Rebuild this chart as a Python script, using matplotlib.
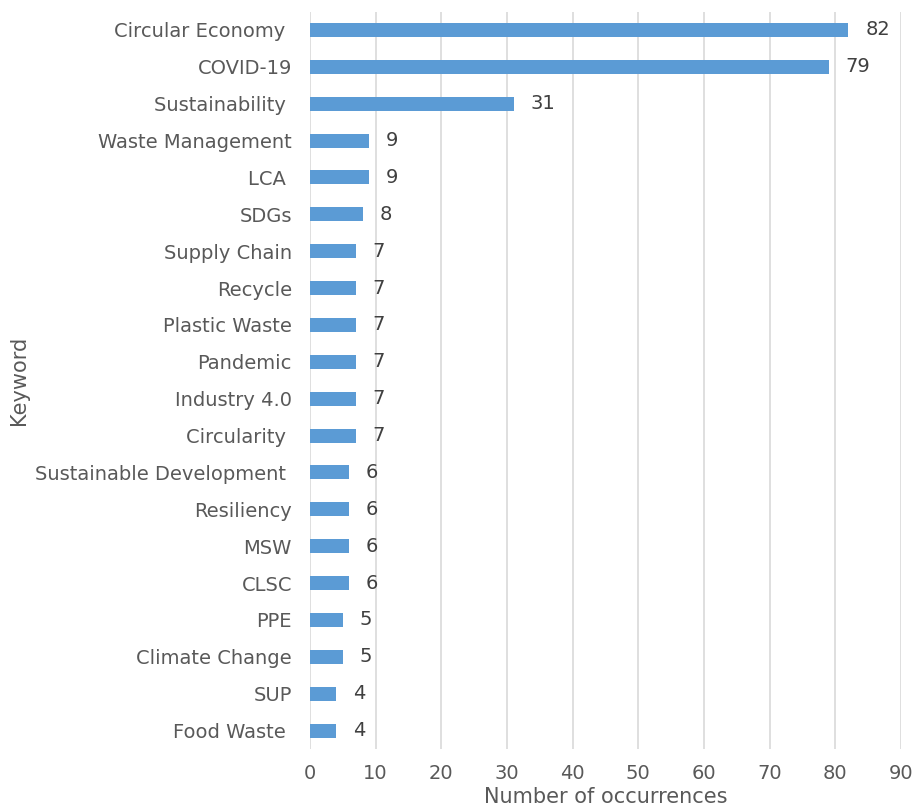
import matplotlib
matplotlib.use("Agg")
import matplotlib.pyplot as plt

keywords = ["Circular Economy ", "COVID-19", "Sustainability ", "Waste Management", "LCA ",
            "SDGs", "Supply Chain", "Recycle", "Plastic Waste", "Pandemic", "Industry 4.0",
            "Circularity ", "Sustainable Development ", "Resiliency", "MSW", "CLSC", "PPE",
            "Climate Change", "SUP", "Food Waste "]
counts = [82, 79, 31, 9, 9, 8, 7, 7, 7, 7, 7, 7, 6, 6, 6, 6, 5, 5, 4, 4]
xticks = [0, 10, 20, 30, 40, 50, 60, 70, 80, 90]

grey = "#595959"
fig = plt.figure(figsize=(9.18, 8.06), dpi=100)
ax = fig.add_axes([0.3377, 0.0707, 0.6438, 0.915])

pos = list(range(len(keywords)))
bars = ax.barh(pos, counts, height=0.38, color="#5b9bd5", zorder=3)
ax.bar_label(bars, labels=[str(c) for c in counts], padding=12, fontsize=14, color="#404040")

ax.set_ylim(len(keywords) - 0.5, -0.5)
ax.set_yticks(pos)
ax.set_yticklabels(keywords)
ax.set_xlim(0, 90)
ax.set_xticks(xticks)
ax.grid(axis="x", color="#d9d9d9", linewidth=1.2, zorder=0)
ax.tick_params(axis="both", length=0, labelsize=14, labelcolor=grey)
ax.tick_params(axis="y", pad=13)
ax.tick_params(axis="x", pad=11)
for s in ax.spines.values():
    s.set_visible(False)

ax.set_xlabel("Number of occurrences", fontsize=15, color=grey, labelpad=3)
ax.set_ylabel("Keyword", fontsize=15, color=grey)
ax.yaxis.set_label_coords(-0.475, 0.5)

fig.savefig("out.png", dpi=100)
